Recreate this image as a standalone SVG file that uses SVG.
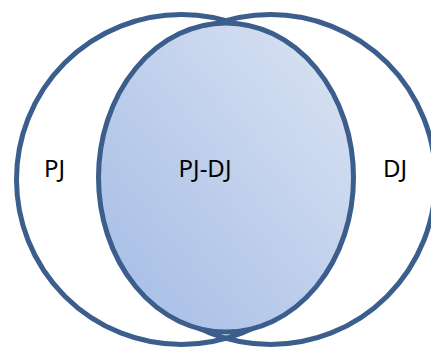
<svg xmlns="http://www.w3.org/2000/svg" width="431" height="347" viewBox="0 0 431 347">
<defs>
<linearGradient id="g" x1="0" y1="1" x2="1" y2="0">
<stop offset="0" stop-color="#a3bbe5"/>
<stop offset="1" stop-color="#dce4f3"/>
</linearGradient>
<style>
.o{fill:none;stroke:#3b5e8d;stroke-width:5}
.f{fill:url(#g)}
.t{font-family:"Noto Sans","Open Sans",sans-serif;font-size:24px;fill:#000;text-anchor:middle}
</style>
</defs>
<rect width="431" height="347" fill="#fff"/>
<g id="PJ">
<circle class="o" cx="181.5" cy="179.5" r="165"/>
<text class="t" x="54.5" y="177">PJ</text>
</g>
<g id="DJ">
<circle class="o" cx="270.5" cy="179.5" r="165"/>
<text class="t" x="395" y="177">DJ</text>
</g>
<g id="PJ-DJ">
<ellipse class="o f" cx="226" cy="177.5" rx="127.5" ry="154.5"/>
<text class="t" x="205" y="177">PJ-DJ</text>
</g>
<g id="connectors"/>
</svg>
